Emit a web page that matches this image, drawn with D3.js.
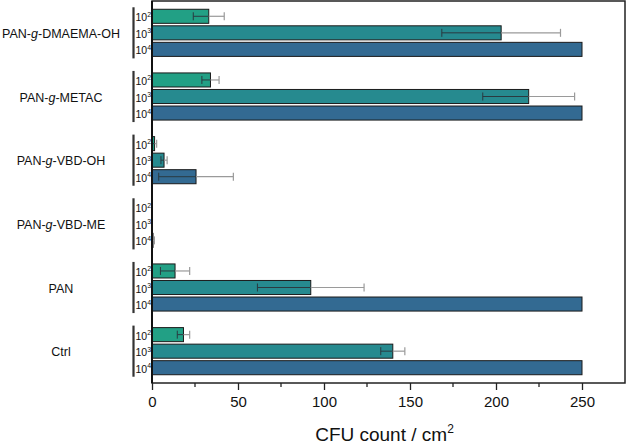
<!DOCTYPE html>
<html>
<head>
<meta charset="utf-8">
<style>
body { margin: 0; background: #fff; }
text { font-family: Arial, "Liberation Sans", sans-serif; fill: #111; }
</style>
</head>
<body>
<svg id="chart" width="627" height="444"></svg>
<script src="https://cdn.jsdelivr.net/npm/d3@7"></script>
<script>

// data
var groups = ["PAN-g-DMAEMA-OH", "PAN-g-METAC", "PAN-g-VBD-OH", "PAN-g-VBD-ME", "PAN", "Ctrl"]
var dilutions = ["2", "3", "4"]      // 10^2, 10^3, 10^4
var means = [
  [33, 203, 250],
  [34, 219, 250],
  [1.5, 7, 25.6],
  [0, 0, 0.6],
  [13.4, 92.3, 250],
  [18.3, 140, 250]
]
var sds = [
  [9, 34.5, 0],
  [5, 26.7, 0],
  [1.2, 1.8, 21.7],
  [0, 0, 0.8],
  [8.5, 31, 0],
  [3.6, 7, 0]
]
var xTicks = [0, 50, 100, 150, 200, 250]
var xMinor = [25, 75, 125, 175, 225]
var colors = ["#22a085", "#268a8f", "#336a92"]

var svg = d3.select("#chart")
var mLeft = 152, mRight = 625, mTop = 1, mBottom = 383

var x = d3.scaleLinear().domain([0, 275]).range([mLeft, mRight])
var y = d3.scaleBand().domain(groups).range([mTop, mBottom])
var yIn = d3.scaleBand().domain(dilutions).range([0, y.bandwidth()])
            .paddingInner(0.15).paddingOuter(0.5)

var rows = []
groups.forEach(function(g, i){
  dilutions.forEach(function(d, j){
    rows.push({g: g, d: d, j: j, m: means[i][j], s: sds[i][j]})
  })
})

// bars
svg.append("g").selectAll("rect").data(rows).enter().append("rect")
   .attr("x", x(0))
   .attr("y", function(r){ return y(r.g) + yIn(r.d) })
   .attr("width", function(r){ return x(r.m) - x(0) })
   .attr("height", yIn.bandwidth())
   .attr("fill", function(r){ return colors[r.j] })
   .attr("stroke", "#1b1b1b")
   .attr("stroke-width", 1)

// error bars (dark part inside the bar, grey outside)
var eb = svg.append("g").selectAll("g").data(rows.filter(function(r){ return r.s > 0 }))
   .enter().append("g")
eb.each(function(r){
  var g = d3.select(this)
  var cy = y(r.g) + yIn(r.d) + yIn.bandwidth() / 2
  var lo = Math.max(0, r.m - r.s), hi = r.m + r.s
  g.append("line").attr("x1", x(lo)).attr("x2", x(r.m)).attr("y1", cy).attr("y2", cy)
   .attr("stroke", "#2a3a40").attr("stroke-width", 1)
  g.append("line").attr("x1", x(r.m)).attr("x2", x(hi)).attr("y1", cy).attr("y2", cy)
   .attr("stroke", "#9a9a9a").attr("stroke-width", 1.2)
  if (r.m - r.s > 0) {
    g.append("line").attr("x1", x(lo)).attr("x2", x(lo)).attr("y1", cy - 4).attr("y2", cy + 4)
     .attr("stroke", "#2a3a40").attr("stroke-width", 1)
  }
  g.append("line").attr("x1", x(hi)).attr("x2", x(hi)).attr("y1", cy - 4).attr("y2", cy + 4)
   .attr("stroke", "#9a9a9a").attr("stroke-width", 1.2)
})

// frame
svg.append("rect").attr("x", mLeft).attr("y", mTop)
   .attr("width", mRight - mLeft).attr("height", mBottom - mTop)
   .attr("fill", "none").attr("stroke", "#222").attr("stroke-width", 1.5)
svg.append("line").attr("x1", mLeft).attr("x2", mLeft).attr("y1", mTop).attr("y2", mBottom)
   .attr("stroke", "#111").attr("stroke-width", 2)

// x axis
var xAxis = svg.append("g").attr("transform", "translate(0," + mBottom + ")")
xAxis.call(d3.axisBottom(x).tickValues(xTicks).tickSize(7).tickPadding(6))
xAxis.attr("font-size", 15).attr("font-family", "Arial, 'Liberation Sans', sans-serif")
xAxis.select(".domain").remove()
xAxis.selectAll("line").attr("stroke", "#222").attr("stroke-width", 1.3)
xAxis.selectAll("text").style("font-size", "15px").attr("fill", "#111")

svg.append("g").selectAll("line").data(xMinor).enter().append("line")
   .attr("x1", function(d){ return x(d) }).attr("x2", function(d){ return x(d) })
   .attr("y1", mBottom).attr("y2", mBottom + 4)
   .attr("stroke", "#222").attr("stroke-width", 1.3)

var title = svg.append("text").attr("x", (mLeft + mRight) / 2 - 4).attr("y", 441)
   .attr("text-anchor", "middle").style("font-size", "19px")
title.append("tspan").text("CFU count / cm")
title.append("tspan").text("2").attr("dy", -8).style("font-size", "12px")

// group labels
var gl = svg.append("g").selectAll("text").data(groups).enter().append("text")
   .attr("x", 61)
   .attr("y", function(g){ return y(g) + y.bandwidth() / 2 + 5 })
   .attr("text-anchor", "middle")
   .style("font-size", "12.5px")
gl.each(function(g){
  var t = d3.select(this)
  var parts = g.split("-g-")
  if (parts.length > 1) {
    t.append("tspan").text(parts[0] + "-")
    t.append("tspan").text("g").style("font-style", "italic")
    t.append("tspan").text("-" + parts[1])
  } else {
    t.text(g)
  }
})

// brackets
svg.append("g").selectAll("line").data(groups).enter().append("line")
   .attr("x1", 133.5).attr("x2", 133.5)
   .attr("y1", function(g){ return y(g) + yIn(dilutions[0]) - 2 })
   .attr("y2", function(g){ return y(g) + yIn(dilutions[2]) + yIn.bandwidth() + 2 })
   .attr("stroke", "#333").attr("stroke-width", 2.2)

// dilution labels
var dl = svg.append("g").selectAll("text").data(rows).enter().append("text")
   .attr("x", 135.5)
   .attr("y", function(r){ return y(r.g) + yIn(r.d) + yIn.bandwidth() / 2 + 5 })
   .style("font-size", "10.5px")
dl.append("tspan").text("10")
dl.append("tspan").text(function(r){ return r.d }).attr("dy", -4.5).style("font-size", "7px")

</script>
</body>
</html>
